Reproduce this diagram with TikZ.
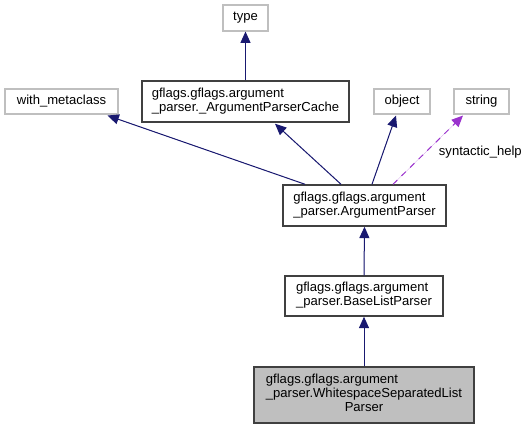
\documentclass[tikz,border=0pt]{standalone}
\usepackage{fontspec}
\setmainfont{Liberation Sans}
\definecolor{edgeblue}{RGB}{25, 25, 112}
\definecolor{helppurple}{RGB}{154, 50, 205}
\definecolor{extgray}{RGB}{191, 191, 191}
\definecolor{clsborder}{RGB}{64, 64, 64}
\usetikzlibrary{arrows.meta, positioning}

\begin{document}
\begin{tikzpicture}[
  x=0.75pt, y=-0.75pt,
  boxsize/.style 2 args={minimum width=#1*0.75pt, minimum height=#2*0.75pt},
  cls/.style={draw=clsborder, line width=1.1pt, inner sep=0pt, font=\fontsize{9.8}{10.5}\selectfont},
  ext/.style={draw=extgray, line width=0.8pt, inner sep=0pt, font=\fontsize{9.8}{10.5}\selectfont},
  inh/.style={-{Triangle[length=8.5pt, width=7.5pt]}, draw=edgeblue, fill=edgeblue, line width=0.75pt},
  usage/.style={-{Triangle[length=8.5pt, width=7.5pt]}, draw=helppurple, fill=helppurple, line width=0.75pt, dash pattern=on 4.5pt off 4.5pt}
]
  \useasboundingbox (0,0) rectangle (526,428);

  % outside classes
  \node[ext, boxsize={45}{26}] (type) at (245.5, 18) {type};
  \node[ext, boxsize={113}{25}] (meta) at (61.5, 101.5) {with\_metaclass};
  \node[ext, boxsize={56}{25}] (object) at (402, 101.5) {object};
  \node[ext, boxsize={55}{25}] (string) at (481.5, 101.5) {string};

  % gflags classes
  \node[cls, boxsize={207}{41}] (cache) at (245.5, 101.5) {%
    \begin{tabular}{@{}l@{}}gflags.gflags.argument\\\_parser.\_ArgumentParserCache\end{tabular}};
  \node[cls, boxsize={163}{41}] (argp) at (364.5, 205.5) {%
    \begin{tabular}{@{}l@{}}gflags.gflags.argument\\\_parser.ArgumentParser\end{tabular}};
  \node[cls, boxsize={158}{40}] (base) at (364, 296) {%
    \begin{tabular}{@{}l@{}}gflags.gflags.argument\\\_parser.BaseListParser\end{tabular}};
  \node[cls, fill=extgray, boxsize={220}{56}] (white) at (364, 395) {%
    \begin{tabular}{@{}l@{}}gflags.gflags.argument\\\_parser.WhitespaceSeparatedList\\\multicolumn{1}{@{}c@{}}{Parser}\end{tabular}};

  % inheritance
  \draw[inh] (cache.north) -- (type.south);
  \draw[inh] ([shift={(-59.5,0)}]argp.north) -- ([shift={(46,1)}]meta.south);
  \draw[inh] ([shift={(-23.5,0)}]argp.north) -- ([shift={(29.5,1)}]cache.south);
  \draw[inh] ([shift={(7.5,0)}]argp.north) -- ([shift={(-6,1)}]object.south);
  \draw[inh] (base.north) -- (argp.south);
  \draw[inh] (white.north) -- (base.south);

  % usage
  \draw[usage] ([shift={(28.5,0)}]argp.north) -- ([shift={(-18.5,1)}]string.south)
    node[pos=0.5, font=\fontsize{9.8}{10.5}\selectfont, anchor=west, xshift=4.5pt, yshift=-2pt] (help) {syntactic\_help};
\end{tikzpicture}
\end{document}
